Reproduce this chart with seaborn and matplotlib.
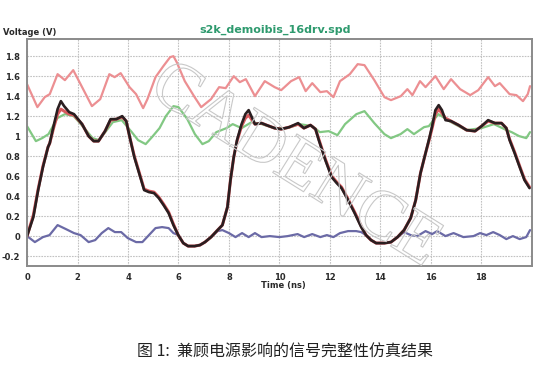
import matplotlib
matplotlib.use("Agg")
import matplotlib.pyplot as plt
import matplotlib.patheffects as pe
import seaborn as sns
import numpy as np

# supply rail (top, pink)
t_vdd = [0, 0.41, 0.7, 0.9, 1.21, 1.5, 1.83, 2.12, 2.57, 2.9, 3.26, 3.47, 3.71, 4.06, 4.32, 4.6,
         4.77, 5.09, 5.4, 5.67, 5.8, 5.93, 6.25, 6.64, 6.9, 7.29, 7.61, 7.87, 8.19, 8.43, 8.67, 9.03,
         9.42, 9.81, 10.07, 10.46, 10.78, 11.04, 11.3, 11.62, 11.88, 12.14, 12.4, 12.79, 13.1, 13.37,
         13.76, 14.16, 14.42, 14.81, 15.07, 15.27, 15.57, 15.79, 16.18, 16.51, 16.8, 17.16, 17.56,
         17.88, 18.27, 18.54, 18.73, 19.12, 19.39, 19.65, 19.84, 19.93]
v_vdd = [1.52, 1.29, 1.39, 1.42, 1.62, 1.56, 1.66, 1.52, 1.30, 1.37, 1.62, 1.59, 1.63, 1.49, 1.42, 1.28,
         1.37, 1.59, 1.70, 1.79, 1.80, 1.74, 1.55, 1.39, 1.29, 1.37, 1.49, 1.48, 1.60, 1.54, 1.57, 1.40,
         1.55, 1.49, 1.46, 1.55, 1.59, 1.45, 1.53, 1.44, 1.45, 1.39, 1.55, 1.62, 1.72, 1.71,
         1.56, 1.39, 1.36, 1.40, 1.47, 1.41, 1.55, 1.49, 1.60, 1.47, 1.57, 1.47, 1.41,
         1.46, 1.59, 1.50, 1.53, 1.42, 1.41, 1.35, 1.42, 1.50]

# second rail (green)
t_vdd2 = [0, 0.35, 0.6, 0.85, 1.2, 1.5, 1.85, 2.2, 2.6, 2.85, 3.1, 3.4, 3.75, 4.15, 4.4, 4.7, 4.95,
          5.25, 5.5, 5.8, 6.0, 6.35, 6.65, 6.95, 7.2, 7.5, 7.9, 8.15, 8.5, 8.9, 9.3, 9.8, 10.3, 10.8,
          11.3, 11.6, 11.95, 12.3, 12.6, 13.05, 13.37, 13.76, 14.16, 14.42, 14.8, 15.07, 15.33, 15.73,
          15.92, 16.3, 16.8, 17.4, 18.0, 18.5, 19.0, 19.2, 19.5, 19.78, 19.93]
v_vdd2 = [1.10, 0.95, 0.98, 1.02, 1.18, 1.22, 1.20, 1.10, 0.98, 0.96, 1.04, 1.14, 1.16, 1.04, 0.96, 0.92, 0.99,
          1.08, 1.20, 1.30, 1.29, 1.17, 1.02, 0.92, 0.95, 1.04, 1.08, 1.12, 1.08, 1.14, 1.12, 1.08, 1.08, 1.12,
          1.10, 1.04, 1.05, 1.01, 1.12, 1.22, 1.25, 1.13, 1.02, 0.98, 1.02, 1.07, 1.02, 1.09,
          1.10, 1.22, 1.14, 1.06, 1.08, 1.12, 1.06, 1.04, 1.00, 0.98, 1.04]

# signal, with and without power effects (black / red)
t_sig = [0, 0.25, 0.44, 0.63, 0.83, 0.9, 1.05, 1.21, 1.34, 1.47, 1.67, 1.86, 2.18, 2.44, 2.64, 2.83,
         3.09, 3.31, 3.54, 3.77, 3.93, 4.06, 4.25, 4.44, 4.64, 4.83, 5.03, 5.22, 5.41, 5.61, 5.8, 5.99,
         6.19, 6.38, 6.64, 6.85, 7.05, 7.29, 7.55, 7.74, 7.94, 8.06, 8.19, 8.32, 8.5, 8.65, 8.78, 9.03,
         9.29, 9.49, 9.81, 10.07, 10.39, 10.74, 10.97, 11.23, 11.43, 11.56, 11.82, 12.07, 12.27, 12.46,
         12.72, 12.98, 13.24, 13.43, 13.63, 13.83, 14.16, 14.42, 14.68, 14.94, 15.2, 15.4, 15.59, 15.79,
         15.92, 16.05, 16.18, 16.31, 16.44, 16.58, 16.8, 17.1, 17.42, 17.75, 18.01, 18.27, 18.54, 18.8,
         18.99, 19.12, 19.32, 19.52, 19.71, 19.91]
v_black = [0.0, 0.19, 0.46, 0.69, 0.89, 0.93, 1.10, 1.27, 1.35, 1.30, 1.24, 1.22, 1.12, 1.00, 0.95, 0.95,
           1.05, 1.17, 1.17, 1.20, 1.15, 1.00, 0.79, 0.63, 0.46, 0.44, 0.43, 0.38, 0.31, 0.23, 0.11, 0.01,
           -0.07, -0.10, -0.10, -0.09, -0.06, -0.01, 0.06, 0.11, 0.29, 0.56, 0.79, 0.96, 1.12, 1.22, 1.26, 1.12,
           1.13, 1.11, 1.08, 1.07, 1.09, 1.13, 1.08, 1.11, 1.07, 0.96, 0.76, 0.59, 0.53, 0.48,
           0.36, 0.23, 0.09, 0.01, -0.04, -0.07, -0.07, -0.06, -0.01, 0.06, 0.18, 0.36, 0.63, 0.83,
           0.96, 1.10, 1.26, 1.31, 1.26, 1.16, 1.15, 1.11, 1.06, 1.05, 1.10, 1.16, 1.13, 1.13,
           1.08, 0.96, 0.83, 0.69, 0.56, 0.48]
v_red = [0.0, 0.21, 0.47, 0.70, 0.89, 0.93, 1.08, 1.22, 1.27, 1.25, 1.22, 1.21, 1.12, 1.00, 0.95, 0.95,
         1.05, 1.16, 1.17, 1.19, 1.15, 1.00, 0.80, 0.64, 0.47, 0.45, 0.44, 0.39, 0.32, 0.24, 0.12, 0.01,
         -0.07, -0.10, -0.10, -0.09, -0.06, -0.01, 0.06, 0.11, 0.29, 0.56, 0.79, 0.95, 1.10, 1.18, 1.21, 1.12,
         1.13, 1.11, 1.08, 1.07, 1.09, 1.12, 1.08, 1.11, 1.07, 0.97, 0.77, 0.60, 0.54, 0.49,
         0.37, 0.24, 0.10, 0.01, -0.04, -0.07, -0.07, -0.06, -0.01, 0.06, 0.18, 0.36, 0.63, 0.83,
         0.95, 1.08, 1.22, 1.27, 1.23, 1.18, 1.15, 1.11, 1.06, 1.05, 1.10, 1.15, 1.13, 1.13,
         1.08, 0.97, 0.84, 0.70, 0.57, 0.49]

# ground bounce (blue)
t_gnd = [0, 0.31, 0.63, 0.89, 1.21, 1.54, 1.86, 2.12, 2.44, 2.7, 2.96, 3.22, 3.48, 3.73, 3.99, 4.32, 4.57,
         4.83, 5.09, 5.35, 5.61, 5.8, 6.0, 6.19, 6.38, 6.64, 6.85, 7.05, 7.29, 7.55, 7.74, 8.0, 8.26, 8.52,
         8.78, 9.03, 9.29, 9.62, 10.0, 10.33, 10.72, 10.98, 11.3, 11.62, 11.88, 12.14, 12.4, 12.72, 13.04,
         13.24, 13.43, 13.63, 13.83, 14.16, 14.42, 14.68, 14.94, 15.2, 15.46, 15.79, 16.05, 16.25, 16.58,
         16.9, 17.29, 17.69, 17.95, 18.2, 18.47, 18.73, 18.99, 19.25, 19.52, 19.78, 19.93]
v_gnd = [0.0, -0.06, -0.01, 0.01, 0.11, 0.07, 0.03, 0.01, -0.06, -0.04, 0.03, 0.08, 0.04, 0.04, -0.02, -0.06, -0.06,
         0.01, 0.08, 0.09, 0.08, 0.03, 0.01, -0.07, -0.10, -0.10, -0.09, -0.06, -0.01, 0.05, 0.06, 0.03, -0.01, 0.03,
         -0.01, 0.03, -0.01, 0.0, -0.01, 0.0, 0.02, -0.01, 0.02, -0.01, 0.01, -0.01, 0.03, 0.05, 0.05,
         0.04, 0.01, -0.04, -0.07, -0.07, -0.06, -0.01, 0.04, 0.01, 0.0, 0.05, 0.02, 0.05, 0.0,
         0.03, -0.01, 0.0, 0.03, 0.01, 0.04, 0.01, -0.03, 0.0, -0.03, -0.01, 0.06]

x_ticks = [0, 2, 4, 6, 8, 10, 12, 14, 16, 18]
y_ticks = [-0.2, 0, 0.2, 0.4, 0.6, 0.8, 1, 1.2, 1.4, 1.6, 1.8]
y_labels = ["-0.2", "0", "0.2", "0.4", "0.6", "0.8", "1", "1.2", "1.4", "1.6", "1.8"]

sns.set_style("white")
plt.rcParams['font.family'] = ['DejaVu Sans']

fig = plt.figure(figsize=(5.41, 3.66), dpi=100)
ax = fig.add_axes([0.05, 0.273, 0.933, 0.62])

sns.lineplot(x=t_vdd, y=v_vdd, ax=ax, color="#ec8f92", lw=1.6, estimator=None, sort=False)
sns.lineplot(x=t_vdd2, y=v_vdd2, ax=ax, color="#82c883", lw=1.6, estimator=None, sort=False)
sns.lineplot(x=t_gnd, y=v_gnd, ax=ax, color="#6b6aa6", lw=1.6, estimator=None, sort=False)
sns.lineplot(x=t_sig, y=v_red, ax=ax, color="#d85a5e", lw=2.2, estimator=None, sort=False)
sns.lineplot(x=t_sig, y=v_black, ax=ax, color="#2a1e20", lw=1.9, estimator=None, sort=False)

ax.set_xlim(0, 20)
ax.set_ylim(-0.3, 1.97)
ax.set_xticks(x_ticks)
ax.set_xticklabels([str(x) for x in x_ticks])
ax.set_yticks(y_ticks)
ax.set_yticklabels(y_labels)
ax.tick_params(length=0, labelsize=6, colors="#2a2a2a", pad=5)
for lab in ax.get_xticklabels() + ax.get_yticklabels():
    lab.set_fontweight("bold")
ax.grid(True, color="#c2c2c2", linestyle=(0, (1.5, 1)), linewidth=0.8)
for s in ax.spines.values():
    s.set_color("#8a8a8a")
    s.set_linewidth(1.4)
ax.set_xlabel("")
ax.set_ylabel("")

fig.text(0.006, 0.912, "Voltage (V)", fontsize=6, fontweight="bold", color="#2a2a2a", va="center")
fig.text(0.508, 0.918, "s2k_demoibis_16drv.spd", fontsize=8, fontweight="bold", color="#2e9a6e",
         ha="center", va="center")
fig.text(0.523, 0.221, "Time (ns)", fontsize=6, fontweight="bold", color="#2a2a2a", ha="center", va="center")

# watermark
fig.text(0.545, 0.545, "CADENCE", fontsize=50, family="Liberation Serif", rotation=-32,
         ha="center", va="center", color=(1, 1, 1, 0),
         path_effects=[pe.withStroke(linewidth=0.8, foreground="#c8c8c8")])

fig.text(0.527, 0.038, "图 1:  兼顾电源影响的信号完整性仿真结果", fontsize=11.5,
         family=["Noto Sans CJK SC", "DejaVu Sans"], style="italic", color="#222222",
         ha="center", va="center")

fig.savefig("out.png", dpi=100)
